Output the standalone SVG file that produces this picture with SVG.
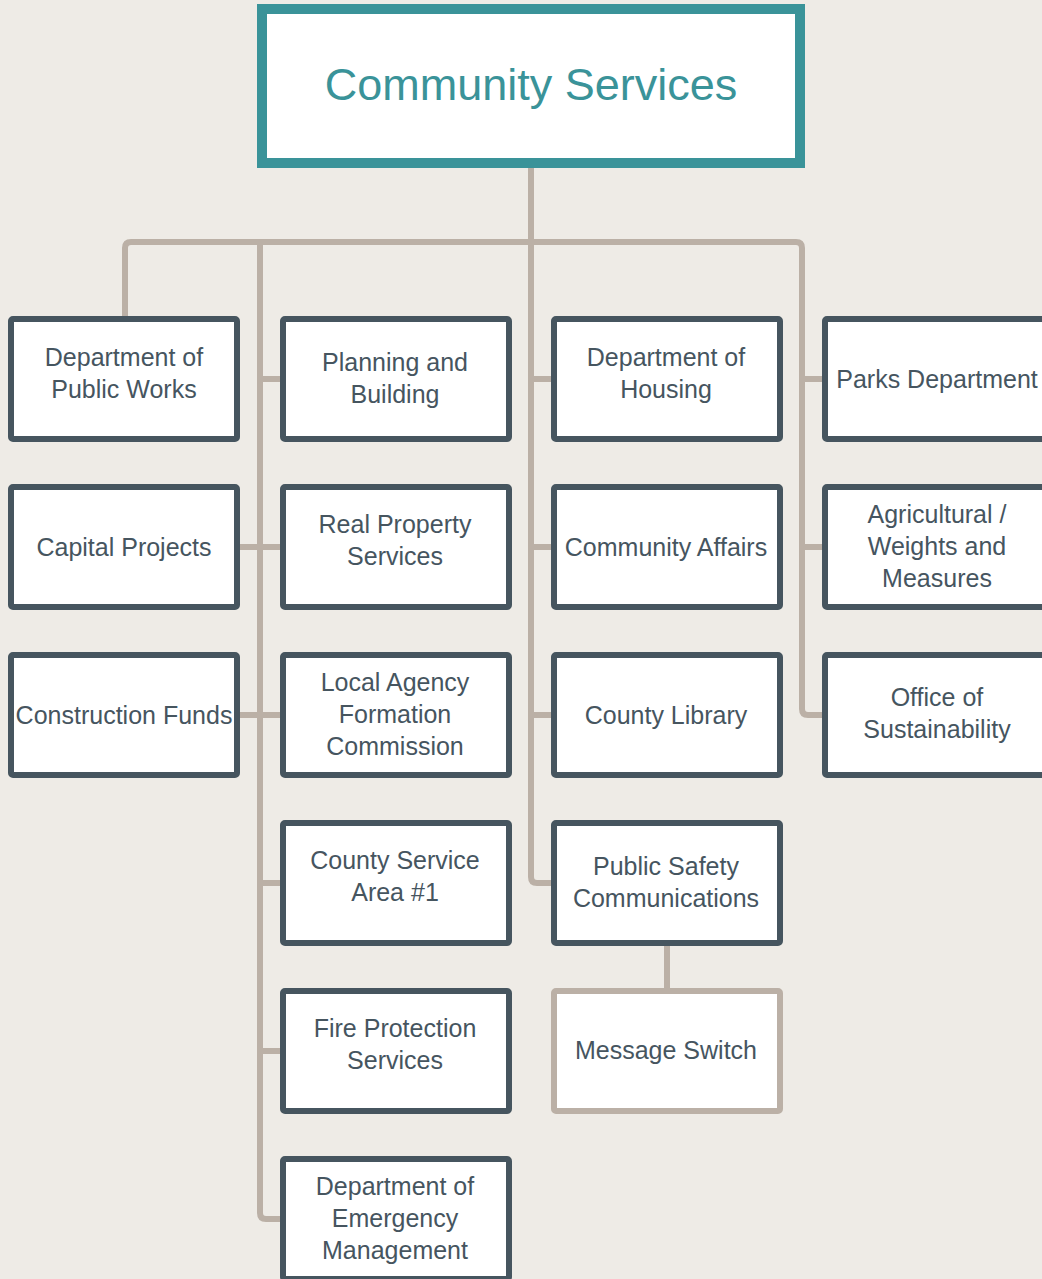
<svg xmlns="http://www.w3.org/2000/svg" width="1042" height="1279" viewBox="0 0 1042 1279">
  <style>
    .bg { fill: #eeebe6; }
    .link { fill: none; stroke: #bbb0a6; stroke-width: 6; stroke-linejoin: round; }
    .box { fill: #ffffff; stroke: #46555f; stroke-width: 6; }
    .box.sub { stroke: #bbb0a6; }
    .box.root { stroke: #3a9399; stroke-width: 10; }
    .lbl { font-family: "Liberation Sans", Arial, sans-serif; font-size: 25px; fill: #46555f; text-anchor: middle; }
    .title { font-family: "Liberation Sans", Arial, sans-serif; font-size: 45px; fill: #3a9399; text-anchor: middle; }
  </style>

  <rect class="bg" x="0" y="0" width="1042" height="1279"/>

  <!-- connectors -->
  <g id="connectors">
    <path class="link" d="M531,168 V242"/>
    <!-- top bar with right-hand branch -->
    <path class="link" d="M125,316 V248 Q125,242 131,242 H796 Q802,242 802,248 V709 Q802,715 808,715 H822"/>
    <path class="link" d="M802,379 H822 M802,547 H822"/>
    <!-- second column trunk -->
    <path class="link" d="M260,242 V1213 Q260,1219 266,1219 H280"/>
    <path class="link" d="M260,379 H280 M240,547 H280 M240,715 H280 M260,883 H280 M260,1051 H280"/>
    <!-- third column trunk -->
    <path class="link" d="M531,242 V877 Q531,883 537,883 H551"/>
    <path class="link" d="M531,379 H551 M531,547 H551 M531,715 H551"/>
    <path class="link" d="M667,946 V988"/>
  </g>

  <g id="community-services">
    <rect class="box root" x="262" y="9" width="538" height="154"/>
    <text class="title" x="531" y="100">Community Services</text>
  </g>

  <!-- column 1 -->
  <g id="public-works">
    <rect class="box" x="11" y="319" width="226" height="120" rx="2"/>
    <text class="lbl" x="124" y="366">Department of</text>
    <text class="lbl" x="124" y="398">Public Works</text>
  </g>
  <g id="capital-projects">
    <rect class="box" x="11" y="487" width="226" height="120" rx="2"/>
    <text class="lbl" x="124" y="556">Capital Projects</text>
  </g>
  <g id="construction-funds">
    <rect class="box" x="11" y="655" width="226" height="120" rx="2"/>
    <text class="lbl" x="124" y="724">Construction Funds</text>
  </g>

  <!-- column 2 -->
  <g id="planning-building">
    <rect class="box" x="283" y="319" width="226" height="120" rx="2"/>
    <text class="lbl" x="395" y="371">Planning and</text>
    <text class="lbl" x="395" y="403">Building</text>
  </g>
  <g id="real-property">
    <rect class="box" x="283" y="487" width="226" height="120" rx="2"/>
    <text class="lbl" x="395" y="533">Real Property</text>
    <text class="lbl" x="395" y="565">Services</text>
  </g>
  <g id="lafco">
    <rect class="box" x="283" y="655" width="226" height="120" rx="2"/>
    <text class="lbl" x="395" y="691">Local Agency</text>
    <text class="lbl" x="395" y="723">Formation</text>
    <text class="lbl" x="395" y="755">Commission</text>
  </g>
  <g id="county-service-area">
    <rect class="box" x="283" y="823" width="226" height="120" rx="2"/>
    <text class="lbl" x="395" y="869">County Service</text>
    <text class="lbl" x="395" y="901">Area #1</text>
  </g>
  <g id="fire-protection">
    <rect class="box" x="283" y="991" width="226" height="120" rx="2"/>
    <text class="lbl" x="395" y="1037">Fire Protection</text>
    <text class="lbl" x="395" y="1069">Services</text>
  </g>
  <g id="emergency-management">
    <rect class="box" x="283" y="1159" width="226" height="120" rx="2"/>
    <text class="lbl" x="395" y="1195">Department of</text>
    <text class="lbl" x="395" y="1227">Emergency</text>
    <text class="lbl" x="395" y="1259">Management</text>
  </g>

  <!-- column 3 -->
  <g id="housing">
    <rect class="box" x="554" y="319" width="226" height="120" rx="2"/>
    <text class="lbl" x="666" y="366">Department of</text>
    <text class="lbl" x="666" y="398">Housing</text>
  </g>
  <g id="community-affairs">
    <rect class="box" x="554" y="487" width="226" height="120" rx="2"/>
    <text class="lbl" x="666" y="556">Community Affairs</text>
  </g>
  <g id="county-library">
    <rect class="box" x="554" y="655" width="226" height="120" rx="2"/>
    <text class="lbl" x="666" y="724">County Library</text>
  </g>
  <g id="public-safety-communications">
    <rect class="box" x="554" y="823" width="226" height="120" rx="2"/>
    <text class="lbl" x="666" y="875">Public Safety</text>
    <text class="lbl" x="666" y="907">Communications</text>
  </g>
  <g id="message-switch">
    <rect class="box sub" x="554" y="991" width="226" height="120" rx="2"/>
    <text class="lbl" x="666" y="1059">Message Switch</text>
  </g>

  <!-- column 4 -->
  <g id="parks">
    <rect class="box" x="825" y="319" width="226" height="120" rx="2"/>
    <text class="lbl" x="937" y="388">Parks Department</text>
  </g>
  <g id="agriculture">
    <rect class="box" x="825" y="487" width="226" height="120" rx="2"/>
    <text class="lbl" x="937" y="523">Agricultural /</text>
    <text class="lbl" x="937" y="555">Weights and</text>
    <text class="lbl" x="937" y="587">Measures</text>
  </g>
  <g id="sustainability">
    <rect class="box" x="825" y="655" width="226" height="120" rx="2"/>
    <text class="lbl" x="937" y="706">Office of</text>
    <text class="lbl" x="937" y="738">Sustainability</text>
  </g>
</svg>
